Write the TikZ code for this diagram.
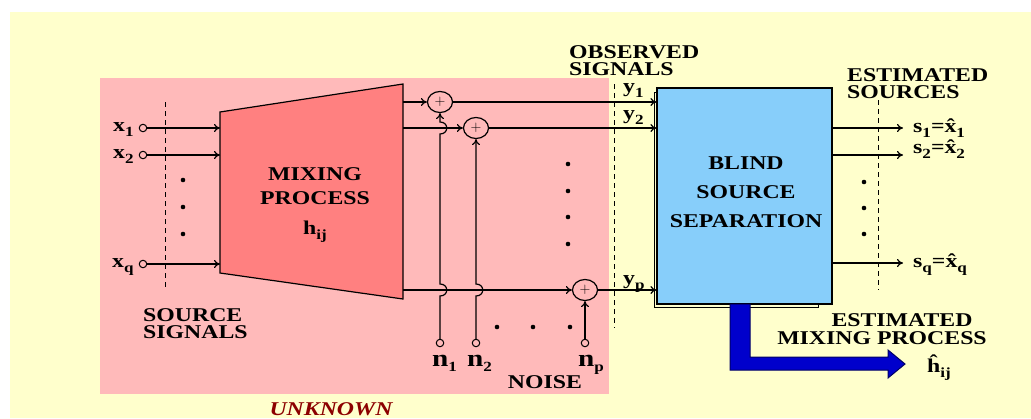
\documentclass[tikz,border=0pt]{standalone}
\usepackage{fontspec}
\usetikzlibrary{arrows.meta,calc,shapes.geometric}
\newfontfamily\lblf{Liberation Serif}[FakeStretch=1.22]
\definecolor{ybg}{RGB}{255,255,204}
\definecolor{pinkbg}{RGB}{255,186,186}
\definecolor{mixred}{RGB}{255,128,128}
\definecolor{bssblue}{RGB}{135,206,250}
\definecolor{arrblue}{RGB}{0,0,204}
\definecolor{unkred}{RGB}{140,0,0}
\newcommand\lsb[1]{\raisebox{-5pt}{\fontsize{14}{14}\selectfont #1}}
\newcommand\bign{{\fontsize{24}{24}\selectfont n}}
\begin{document}
\begin{tikzpicture}[x=1pt,y=-1pt,
  lbl/.style={font=\lblf\bfseries\fontsize{19.5}{20}\selectfont, inner sep=0, anchor=base west},
  lblc/.style={lbl, anchor=base},
  caps/.style={text height=13pt, text depth=0pt},
  twoline/.style={font=\lblf\bfseries\fontsize{19.5}{17}\selectfont, inner sep=0, align=left, anchor=north west},
  arr/.style={-{To[length=6pt,width=8pt]}, line width=1.2pt},
  ln/.style={line width=1.2pt},
  term/.style={circle, draw, line width=1pt, inner sep=0, minimum size=7.5pt, fill=pinkbg},
  adder/.style={ellipse, draw, line width=1.2pt, inner sep=0, minimum width=25pt, minimum height=21pt, fill=pinkbg, font=\fontsize{15}{15}\selectfont},
  dsh/.style={line width=1pt, dash pattern=on 5pt off 4pt}
]
\useasboundingbox (0,0) rectangle (1031,418);
\fill[white] (0,0) rectangle (1031,418);
\fill[ybg] (10,12) rectangle (1031,418);
\fill[pinkbg] (100,78) rectangle (609,394);

% mixing process
\draw[ln, fill=mixred] (220,112) -- (403,84) -- (403,299) -- (220,273) -- cycle;
\coordinate (m1) at (220,128);
\coordinate (m2) at (220,155);
\coordinate (mq) at (220,264);
\coordinate (o1) at (403,102);
\coordinate (o2) at (403,128);
\coordinate (op) at (403,290);
\node[lblc, caps] (mix1) at (315,180) {MIXING};
\node[lblc, caps] (mix2) at (315,204) {PROCESS};
\node[lblc] (mix3) at (315,234) {h\lsb{ij}};

% sources
\node[term] (x1t) at (143,128) {};
\node[term] (x2t) at (143,155) {};
\node[term] (xqt) at (143,264) {};
\draw[arr] (x1t) -- (m1);
\draw[arr] (x2t) -- (m2);
\draw[arr] (xqt) -- (mq);
\node[lbl, anchor=base east] (x1l) at ($(x1t.west)+(-5,3.5)$) {x\lsb{1}};
\node[lbl, anchor=base east] (x2l) at ($(x2t.west)+(-5,3.5)$) {x\lsb{2}};
\node[lbl, anchor=base east] (xql) at ($(xqt.west)+(-5,3.5)$) {x\lsb{q}};
\draw[dsh] (165,102) -- (165,290);
\foreach \yy in {180,207,234} \fill (183,\yy) circle (2.3);
\node[twoline] (src) at (143,308) {SOURCE\\SIGNALS};

% shadow frame and BSS box
\draw[line width=1pt, fill=ybg] (654,92) rectangle (818,307);
\node[draw, line width=1.2pt, fill=bssblue, minimum width=175pt, minimum height=216pt, inner sep=0] (bss) at (744.5,196) {};
\node[lblc, caps] (bss1) at (746,169) {BLIND};
\node[lblc, caps] (bss2) at (746,198) {SOURCE};
\node[lblc, caps] (bss3) at (746,227) {SEPARATION};

% adders
\node[adder] (a1) at (440,102) {+};
\node[adder] (a2) at (476,128) {+};
\node[adder] (ap) at (585,290) {+};
\draw[arr] (o1) -- (a1);
\draw[arr] (o2) -- (a2);
\draw[arr] (op) -- (ap);
\draw[arr] (a1) -- (a1 -| bss.west);
\draw[arr] (a2) -- (a2 -| bss.west);
\draw[arr] (ap) -- (ap -| bss.west);

% noise
\node[term] (n1t) at (440,343) {};
\node[term] (n2t) at (476,343) {};
\node[term] (npt) at (585,343) {};
\draw[arr] (n1t) -- ($(n1t|-op)+(0,6)$) .. controls +(9,0) and +(9,0) .. ($(n1t|-op)+(0,-6)$)
  -- ($(n1t|-o2)+(0,6)$) .. controls +(9,0) and +(9,0) .. ($(n1t|-o2)+(0,-6)$) -- (a1);
\draw[arr] (n2t) -- ($(n2t|-op)+(0,6)$) .. controls +(9,0) and +(9,0) .. ($(n2t|-op)+(0,-6)$) -- (a2);
\draw[arr] (npt) -- (ap);
\node[lbl] (n1l) at (432,366) {\bign\lsb{1}};
\node[lbl] (n2l) at (467,366) {\bign\lsb{2}};
\node[lbl] (npl) at (578,366) {\bign\lsb{p}};
\foreach \xx in {497,533,570} \fill (\xx,327) circle (2.3);
\foreach \yy in {164,191,217,244} \fill (568,\yy) circle (2.3);
\node[lblc, caps] (noise) at (545,388) {NOISE};

% observed signals
\draw[dsh] (614,84) -- (614,328);
\node[twoline] (obs) at (569,45) {OBSERVED\\SIGNALS};
\node[lbl] (y1l) at (623,92) {y\lsb{1}};
\node[lbl] (y2l) at (623,119) {y\lsb{2}};
\node[lbl] (ypl) at (623,284) {y\lsb{p}};

% outputs
\coordinate (s1) at (903,128);
\coordinate (s2) at (903,155);
\coordinate (sq) at (903,263);
\draw[arr] (bss.east |- s1) -- (s1);
\draw[arr] (bss.east |- s2) -- (s2);
\draw[arr] (bss.east |- sq) -- (sq);
\draw[dsh] (878,100) -- (878,290);
\foreach \yy in {182,208,234} \fill (864,\yy) circle (2.3);
\node[lbl] (s1l) at (913,132) {s\lsb{1}=\^{x}\lsb{1}};
\node[lbl] (s2l) at (913,153) {s\lsb{2}=\^{x}\lsb{2}};
\node[lbl] (sql) at (913,267) {s\lsb{q}=\^{x}\lsb{q}};
\node[twoline] (est) at (847,68) {ESTIMATED\\SOURCES};

% estimated mixing process arrow
\draw[line width=1pt, draw=black!60!blue, fill=arrblue]
  (730,304) -- (750,304) -- (750,357) -- (888,357) -- (888,350) -- (905,364)
  -- (888,378) -- (888,370) -- (730,370) -- cycle;
\node[lblc, caps] (emp1) at (902,326) {ESTIMATED};
\node[lblc, caps] (emp2) at (882,344) {MIXING PROCESS};
\node[lbl] (hhat) at (927,372) {ĥ\lsb{ij}};

\node[lblc, caps, font=\lblf\bfseries\itshape\fontsize{19.5}{20}\selectfont, text=unkred] (unk) at (331,415) {UNKNOWN};
\end{tikzpicture}
\end{document}
